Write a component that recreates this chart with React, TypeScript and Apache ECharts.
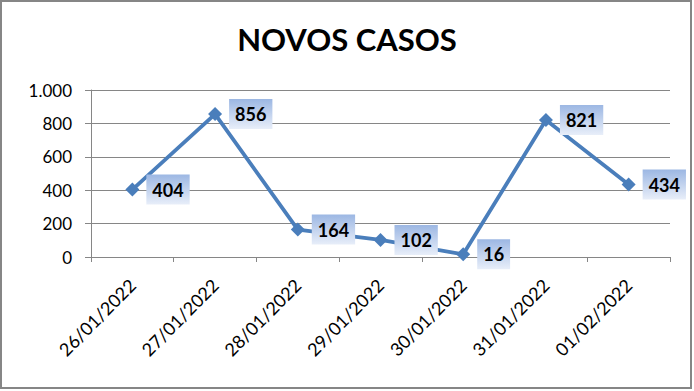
import React, { useEffect, useRef } from "react";
import * as echarts from "echarts";

const categories = ["26/01/2022", "27/01/2022", "28/01/2022", "29/01/2022", "30/01/2022", "31/01/2022", "01/02/2022"];
const novosCasos = [404, 856, 164, 102, 16, 821, 434];
const yTicks = { min: 0, max: 1000, interval: 200 };
const titleText = "NOVOS CASOS";

const FONT = "Lato";
const AXIS_GRAY = "#868686";

function fmt(v: number): string {
  return String(Math.round(v)).replace(/\B(?=(\d{3})+(?!\d))/g, ".");
}

export default function App() {
  const ref = useRef<HTMLDivElement>(null);
  useEffect(() => {
    if (!ref.current) return;
    const chart = echarts.init(ref.current, null, { renderer: "svg" });
    const labelBg = new echarts.graphic.LinearGradient(0, 0, 0, 1, [
      { offset: 0, color: "#9cb7e3" },
      { offset: 1, color: "#e8eef9" },
    ]);
    chart.setOption({
      animation: false,
      backgroundColor: "#ffffff",
      textStyle: { fontFamily: FONT },
      title: {
        text: titleText,
        left: "center",
        top: 18,
        textStyle: { fontFamily: FONT, fontSize: 31, fontWeight: "bold", color: "#000", lineHeight: 32 },
      },
      graphic: [
        {
          type: "rect",
          shape: { x: 1, y: 1, width: 690, height: 387 },
          style: { fill: "none", stroke: AXIS_GRAY, lineWidth: 2 },
          silent: true,
        },
      ],
      grid: { left: 91, top: 90, width: 579, height: 167, containLabel: false },
      xAxis: {
        type: "category",
        data: categories,
        boundaryGap: true,
        axisLine: { show: true, lineStyle: { color: AXIS_GRAY, width: 1 } },
        axisTick: { show: true, length: 5, lineStyle: { color: AXIS_GRAY } },
        axisLabel: { rotate: 45, margin: 25, fontFamily: FONT, fontSize: 18, color: "#000" },
        splitLine: { show: false },
      },
      yAxis: {
        type: "value",
        min: yTicks.min,
        max: yTicks.max,
        interval: yTicks.interval,
        axisLine: { show: true, lineStyle: { color: AXIS_GRAY, width: 1 } },
        axisTick: { show: true, length: 6, lineStyle: { color: AXIS_GRAY } },
        axisLabel: { margin: 19, fontFamily: FONT, fontSize: 17, color: "#000", formatter: (v: number) => fmt(v) },
        splitLine: { show: true, lineStyle: { color: AXIS_GRAY, width: 1 } },
      },
      series: [
        {
          type: "line",
          data: novosCasos,
          symbol: "diamond",
          symbolSize: 14,
          lineStyle: { color: "#4a7ebb", width: 3.8 },
          itemStyle: { color: "#4a7ebb" },
          label: {
            show: true,
            position: "right",
            distance: 7,
            fontFamily: FONT,
            fontSize: 18,
            fontWeight: "bold",
            color: "#000",
            lineHeight: 18,
            padding: [6, 6, 6, 6],
            backgroundColor: labelBg,
          },
        },
      ],
    });
    return () => chart.dispose();
  }, []);
  return <div ref={ref} style={{ position: "fixed", left: 0, top: 0, width: 694, height: 391 }} />;
}
